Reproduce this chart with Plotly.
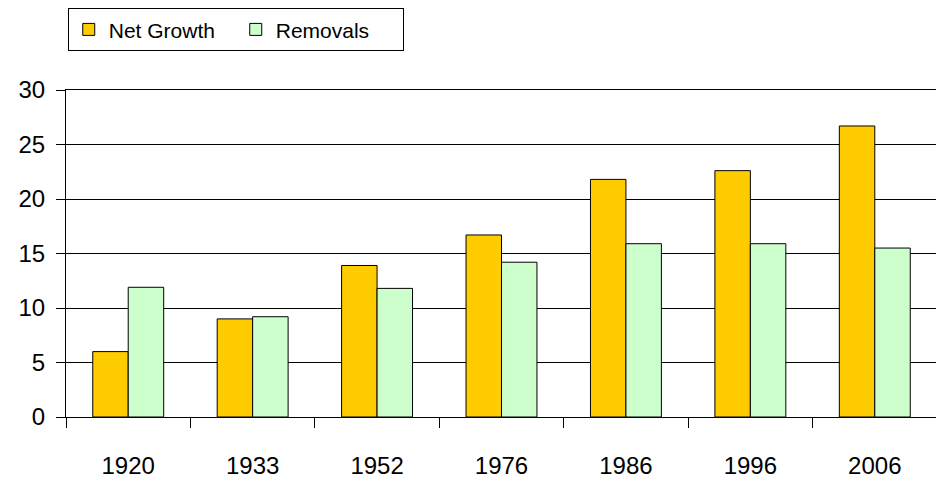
import plotly.graph_objects as go

years = ["1920", "1933", "1952", "1976", "1986", "1996", "2006"]
net_growth = [6.0, 9.0, 13.9, 16.7, 21.8, 22.6, 26.7]
removals = [11.9, 9.2, 11.8, 14.2, 15.9, 15.9, 15.5]
y_ticks = [0, 5, 10, 15, 20, 25, 30]

FONT = "Liberation Sans, Arial, sans-serif"

fig = go.Figure()
fig.add_trace(go.Bar(name="Net Growth", x=years, y=net_growth,
                     marker=dict(color="#FFCC00", line=dict(color="#000000", width=1))))
fig.add_trace(go.Bar(name="Removals", x=years, y=removals,
                     marker=dict(color="#CCFFCC", line=dict(color="#000000", width=1))))

fig.update_layout(
    width=936, height=471,
    margin=dict(l=58, r=7, t=82, b=62, autoexpand=False),
    paper_bgcolor="white", plot_bgcolor="white",
    barmode="group", bargap=0.43, bargroupgap=0,
    font=dict(family=FONT, size=24, color="#000000"),
    showlegend=True,
    legend=dict(orientation="h", x=0.002, xanchor="left", y=1.25, yanchor="top",
                bordercolor="#000000", borderwidth=1, bgcolor="white",
                font=dict(size=21, family=FONT), entrywidth=122, entrywidthmode="pixels",
                traceorder="normal"),
    xaxis=dict(type="category", showgrid=False, showline=True, linecolor="#000000", linewidth=1,
               ticks="outside", ticklen=10, tickcolor="#000000", tickson="boundaries",
               ticklabelstandoff=27, mirror=True, automargin=False),
    yaxis=dict(range=[0, 30], tickvals=y_ticks, showgrid=True, gridcolor="#000000", gridwidth=1,
               showline=True, linecolor="#000000", linewidth=1, mirror=True,
               ticks="outside", ticklen=9, tickcolor="#000000", ticklabelstandoff=6,
               zeroline=False, automargin=False),
)

fig.write_html("out.html")
